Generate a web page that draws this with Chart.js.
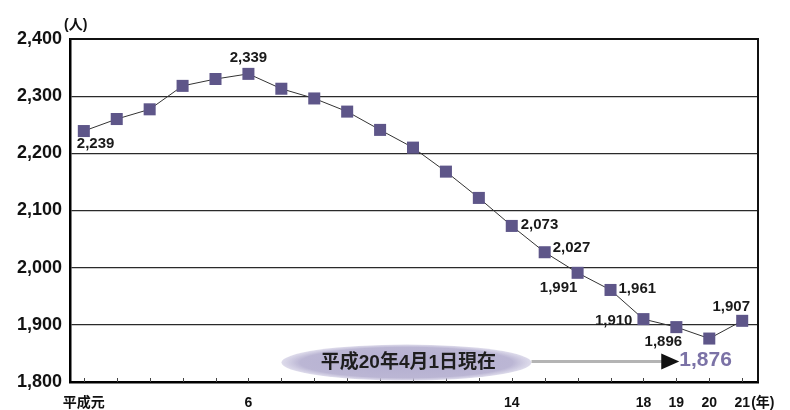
<!DOCTYPE html>
<html>
<head>
<meta charset="utf-8">
<script src="https://cdn.jsdelivr.net/npm/chart.js@4/dist/chart.umd.min.js"></script>
<style>
  html, body { margin: 0; padding: 0; background: #fff; }
  #wrap { width: 790px; height: 410px; }
</style>
</head>
<body>
<div id="wrap"><canvas id="c" width="790" height="410"></canvas></div>
<script>
// 人口の推移（平成元年〜21年）
const years = ['平成元', '2', '3', '4', '5', '6', '7', '8', '9', '10', '11',
               '12', '13', '14', '15', '16', '17', '18', '19', '20', '21'];
const population = [2239, 2260, 2277, 2318, 2330, 2339, 2313, 2296, 2273, 2241, 2210,
                    2168, 2122, 2073, 2027, 1991, 1961, 1910, 1896, 1876, 1907];
const shownYears = ['平成元', '6', '14', '18', '19', '20', '21'];
const yTicks = [1800, 1900, 2000, 2100, 2200, 2300, 2400];
const labelledYears = ['平成元', '6', '14', '15', '16', '17', '18', '19', '21'];
const highlightYear = '20';
const noteText = '平成20年4月1日現在';

const NUM_FONT = '"Liberation Sans", Arial, Helvetica, sans-serif';
const JP_FONT = '"Liberation Sans", "Noto Sans CJK JP", sans-serif';
const fmt = v => v.toLocaleString('en-US');

// where each value label sits relative to its marker: [dx, dy, align]
const labelPlacement = {
  '平成元': [-7, 13, 'left'],
  '6': [0, -16, 'center'],
  '14': [9, -1, 'left'],
  '15': [8, -4, 'left'],
  '16': [-19, 15, 'center'],
  '17': [8, -1, 'left'],
  '18': [-11, 2, 'right'],
  '19': [-13, 15, 'center'],
  '21': [-11, -14, 'center']
};

const frameAndNotes = {
  id: 'frameAndNotes',
  afterDatasetsDraw(chart) {
    const { ctx, chartArea: a, scales } = chart;
    const xs = scales.x, ys = scales.y;
    const meta = chart.getDatasetMeta(0);
    ctx.save();

    // top and right frame
    ctx.strokeStyle = '#111';
    ctx.lineWidth = 2;
    ctx.beginPath();
    ctx.moveTo(a.left, a.top);
    ctx.lineTo(a.right, a.top);
    ctx.lineTo(a.right, a.bottom);
    ctx.stroke();

    // small inward ticks on the year axis
    ctx.strokeStyle = '#444';
    ctx.lineWidth = 1;
    years.forEach((_, i) => {
      const x = Math.round(xs.getPixelForValue(i + 1)) + 0.5;
      ctx.beginPath();
      ctx.moveTo(x, a.bottom);
      ctx.lineTo(x, a.bottom - 4);
      ctx.stroke();
    });

    // value labels
    ctx.fillStyle = '#1a1a1a';
    ctx.font = 'bold 15px ' + NUM_FONT;
    ctx.textBaseline = 'middle';
    labelledYears.forEach(y => {
      const i = years.indexOf(y);
      const pt = meta.data[i];
      const [dx, dy, align] = labelPlacement[y];
      ctx.textAlign = align;
      ctx.fillText(fmt(population[i]), pt.x + dx, pt.y + dy);
    });

    // note: 平成20年4月1日現在 ──▶ value
    const hi = years.indexOf(highlightYear);
    const cy = ys.getPixelForValue(1834);
    const ex = xs.getPixelForValue(10.8);
    const g = ctx.createRadialGradient(0, 0, 0, 0, 0, 1);
    ctx.save();
    ctx.translate(ex, cy);
    ctx.scale(125, 18);
    g.addColorStop(0, '#b3aed0');
    g.addColorStop(0.85, '#bbb6d4');
    g.addColorStop(1, 'rgba(200,196,222,0.6)');
    ctx.fillStyle = g;
    ctx.beginPath();
    ctx.arc(0, 0, 1, 0, Math.PI * 2);
    ctx.fill();
    ctx.restore();

    ctx.fillStyle = '#1e1e1e';
    ctx.font = 'bold 19px ' + JP_FONT;
    ctx.textAlign = 'center';
    ctx.fillText(noteText, ex + 2, cy);

    const lineStart = xs.getPixelForValue(14.6);
    const tipX = xs.getPixelForValue(hi + 1) - 30;
    ctx.strokeStyle = '#b4b4b4';
    ctx.lineWidth = 3;
    ctx.beginPath();
    ctx.moveTo(lineStart, cy - 1);
    ctx.lineTo(tipX - 16, cy - 1);
    ctx.stroke();
    ctx.fillStyle = '#111';
    ctx.beginPath();
    ctx.moveTo(tipX - 18, cy - 9);
    ctx.lineTo(tipX, cy - 1);
    ctx.lineTo(tipX - 18, cy + 7);
    ctx.closePath();
    ctx.fill();

    ctx.fillStyle = '#7b72a6';
    ctx.font = 'bold 21px ' + NUM_FONT;
    ctx.textAlign = 'left';
    ctx.fillText(fmt(population[hi]), tipX, cy - 2);

    // unit labels
    ctx.fillStyle = '#111';
    ctx.font = 'bold 14px ' + JP_FONT;
    ctx.textAlign = 'left';
    ctx.fillText('(人)', a.left - 6, a.top - 14);
    const lastX = xs.getPixelForValue(years.length);
    ctx.fillText('(年)', lastX + 9, a.bottom + 21);

    ctx.restore();
  }
};

new Chart(document.getElementById('c'), {
  type: 'line',
  data: {
    datasets: [{
      data: population.map((v, i) => ({ x: i + 1, y: v })),
      borderColor: '#333',
      borderWidth: 1,
      tension: 0,
      pointStyle: 'rect',
      pointRadius: 8.5,
      pointBorderWidth: 0,
      pointBackgroundColor: '#5e5689',
      pointBorderColor: '#5e5689'
    }]
  },
  options: {
    responsive: false,
    animation: false,
    events: [],
    layout: { padding: { top: 39, right: 32, left: 0, bottom: 0 } },
    plugins: { legend: { display: false }, tooltip: { enabled: false } },
    scales: {
      x: {
        type: 'linear',
        min: 0.58,
        max: 21.48,
        afterBuildTicks: s => { s.ticks = years.map((_, i) => ({ value: i + 1 })); },
        afterFit: s => { s.height = 28; },
        grid: { display: false, drawTicks: false },
        border: { display: true, color: '#000', width: 2.5 },
        ticks: {
          autoSkip: false,
          maxRotation: 0,
          padding: 13,
          color: '#111',
          font: { family: JP_FONT, size: 14, weight: 'bold' },
          callback: v => {
            const name = years[v - 1];
            return shownYears.includes(name) ? name : '';
          }
        }
      },
      y: {
        min: 1800,
        max: 2400,
        afterBuildTicks: s => { s.ticks = yTicks.map(v => ({ value: v })); },
        afterFit: s => { s.width = 70; },
        grid: { color: '#2a2a2a', lineWidth: 1.3, drawTicks: false },
        border: { display: true, color: '#000', width: 2.5 },
        ticks: {
          padding: 8,
          color: '#111',
          font: { family: NUM_FONT, size: 18, weight: 'bold' },
          callback: v => fmt(v)
        }
      }
    }
  },
  plugins: [frameAndNotes]
});
</script>
</body>
</html>
